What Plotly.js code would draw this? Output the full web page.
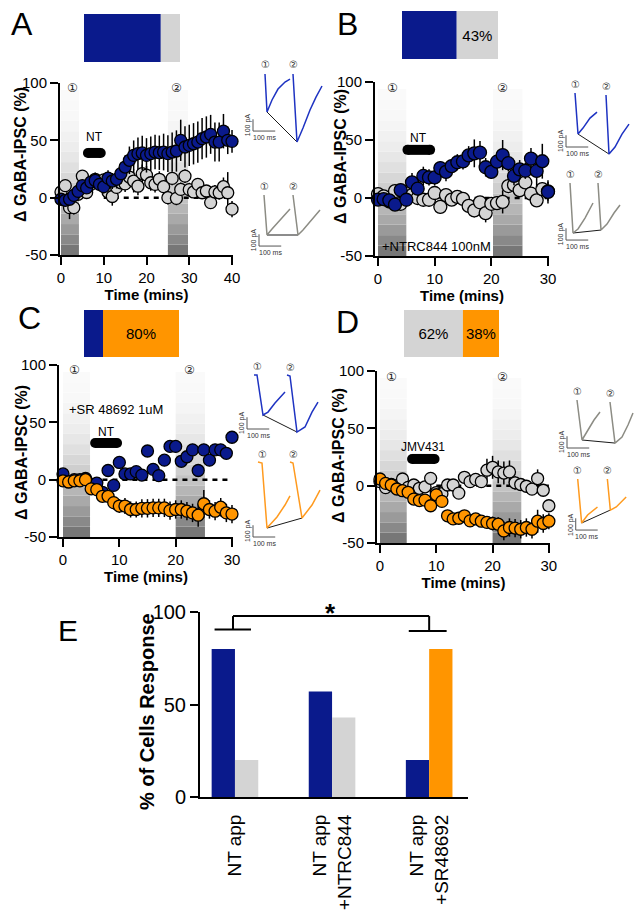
<!DOCTYPE html>
<html>
<head>
<meta charset="utf-8">
<script src="https://cdn.plot.ly/plotly-3.0.1.min.js"></script>
<style>
html,body{margin:0;padding:0;background:#fff;}
#chart{width:641px;height:912px;}
</style>
</head>
<body>
<div id="chart"></div>
<script>
// ================= DATA =================
// ---- Panel A : NT application (time in min, % change of GABA-IPSC) ----
const timeA = [0,1,2,3,4,5,6,7,8,9,10,11,12,13,14,15,16,17,18,19,20,21,22,23,24,25,26,27,28,29,30,31,32,33,34,35,36,37,38,39,40];
const incA = [-1.4,-2.3,-1.4,2,5.5,10.5,8.5,13.6,15,11.6,9.6,17,14.5,16,20.9,26.7,32.6,36.9,38.4,39,36.9,38.4,39.8,39.2,39.8,38.4,39.8,40.7,50,44.2,45.6,47,48.5,51.5,52.9,55.2,48.5,48.5,58,50,49.1];
const incErrA = [3,3,3,4,4,5,5,6,6,6,6,7,7,8,9,10,12,13,14,15,15,15,15,15,16,16,17,18,18,18,18,18,18,18,18,17,17,17,15,12,10];
const nonA = [5,10.5,-8.7,-8.7,3,18.8,4.5,11.6,16,12,15.5,5,1,9,13,12,18,14.5,10,21,19.7,13,11.6,16,9.6,0,16.8,-0.6,7.2,18.8,7,5,11.6,4.3,5.8,-4.3,5,4.3,9.6,4.3,-10];
const nonErrA = [5,4,10,6,4,5,5,5,6,6,5,5,8,6,6,7,8,10,8,8,8,7,7,7,6,6,6,6,6,6,6,5,5,5,5,5,6,6,8,18,7];
const appA = [6.3, 9.3];
const windowsA = [[0,4.2],[25,29.7]];
const zeroRefA = [10,40];

// ---- Panel B : NT + NTRC844 100nM ----
const time30 = [0,1,2,3,4,5,6,7,8,9,10,11,12,13,14,15,16,17,18,19,20,21,22,23,24,25,26,27,28,29,30];
const incB = [-1.4,-1,-2,-5.7,6.8,-1.5,13.5,8,19,17.7,17.7,25.8,22.5,27.5,30.8,31.5,36.7,38.5,39.2,26.5,22.5,31.3,37,30,19,24.7,23.5,34,23.3,31.7,5.3];
const incErrB = [3,3,3,4,5,4,8,6,8,7,7,6,8,6,7,7,8,12,10,8,6,7,13,7,8,8,7,9,14,15,10];
const nonB = [3.4,1.4,-3,6,-5,1,2.5,0,-1.5,-1.5,4.3,-7.6,2.5,-1.4,1,-0.8,-6.8,-10.7,-3.7,-13,-5,-4.5,-3.3,10.3,11.3,6.7,13.4,3.7,-2,7.7,5.7];
const nonErrB = [3,3,4,4,4,3,4,3,3,3,3,6,3,3,3,4,5,6,4,8,5,5,10,6,6,5,6,5,5,6,8];
const appB = [5.2, 9.2];
const windowsB = [[0,5],[20.3,25.5]];
const zeroRefB = [10,30];

// ---- Panel C : NT + SR 48692 1uM ----
const incC = [5,-2,0,0,1,-4,-3,-11,8,-5,15,5,5,7,4,25,9,3.5,17,29,29,16,20,26,8,26,17,26,26,23,37];
const decC = [-1,-2,-1,-1,0,-8,-8.7,-14.5,-14.5,-20,-23,-23,-26,-26,-25,-25,-24.6,-24.6,-24.6,-27,-26,-26,-27.5,-29,-31,-21,-26,-27.5,-24,-29,-30];
const decErrC = [2,2,2,2,2,3,4,5,5,6,6,7,7,7,8,8,8,8,8,8,8,8,8,8,10,12,8,8,8,8,8];
const appC = [5.7, 9.6];
const windowsC = [[0,4.8],[20,25.2]];
const zeroRefC = [7,30];

// ---- Panel D : JMV431 ----
const nonD = [3.5,-1.7,1,0,5.8,-1.5,0.6,-2.3,-1,6.4,-6,-7,0.6,0.6,-6.5,7.3,3.5,5.5,3.5,13.5,16,12,11,12,2.5,1,-0.5,-3,6.2,-4,-17.5];
const nonErrD = [3,3,3,3,3,3,3,3,3,4,4,4,3,3,4,5,4,5,4,10,10,10,10,10,6,4,4,4,8,4,5];
const decD = [5.8,2,0.6,-2.9,-4.4,-5.8,-11.7,-13,-12.6,-17.5,-7.9,-13.7,-26.3,-29,-28.4,-26.3,-30.7,-29,-31,-32,-33,-33.6,-39.5,-36.5,-37,-38,-36.5,-38,-31,-33,-31];
const decErrD = [3,3,3,3,3,3,4,4,4,4,5,5,4,4,4,5,5,5,5,5,6,6,8,8,8,8,8,8,10,8,7];
const appD = [5.7, 9.7];
const windowsD = [[0,4.75],[20,25.1]];
const zeroRefD = [10,30];

// ---- Panel E : % of cells response ----
const catE = ['NT app', 'NT app<br>+NTRC844', 'NT app<br>+SR48692'];
const incE = [80, 57, 20];
const nonE = [20, 43, null];
const decE = [null, null, 80];
const jmvNon = 62, jmvDec = 38;

// ---- Example traces (ms, pA), sweeps ① and ② separated by null ----
const tA_inc = [0,9,31.5,58.5,90,112.5,null,126,144,171,202.5,229.5,256.5];
const iA_inc = [0,-323,-221,-128,-68,-43,null,0,-578,-459,-306,-196,-102];
const tA_non = [0,13.5,36,63,117,null,130.5,153,175.5,207,252];
const iA_non = [0,-340,-289,-230,-119,null,0,-340,-298,-230,-128];
const tB_inc = [0,13.5,36,67.5,99,null,139.5,153,180,211.5,243];
const iB_inc = [0,-349,-298,-213,-162,null,-17,-519,-459,-349,-264];
const tB_non = [0,13.5,36,67.5,103.5,null,126,139.5,166.5,198,225];
const iB_non = [0,-425,-391,-298,-170,null,0,-400,-349,-255,-187];
const tC_inc = [-13.5,0,27,49.5,81,126,null,135,148.5,180,216,247.5,274.5];
const iC_inc = [0,0,-340,-315,-238,-145,null,0,-8.5,-485,-442,-315,-230];
const tC_dec = [-18,0,22.5,67.5,103.5,126,null,126,139.5,180,225,261];
const iC_dec = [8.5,0,-553,-459,-357,-280,null,8.5,0,-468,-357,-230];
const tD_non = [0,22.5,49.5,76.5,103.5,null,148.5,171,202.5,229.5,252];
const iD_non = [0,-340,-255,-170,-102,null,-17,-366,-315,-213,-111];
const tD_dec = [0,18,45,72,90,null,135,148.5,175.5,198,220.5];
const iD_dec = [0,-374,-306,-264,-238,null,0,-264,-238,-196,-153];

// ================= STYLE / LAYOUT =================
const FONT = 'Liberation Sans, Arial, Helvetica, sans-serif';
const W = 641, H = 912;
const BLUE = '#0a1a8c', GREY = '#d4d4d4', ORANGE = '#ff9500';
const BLUE_TR = '#1e33c2', GREY_TR = '#8c8c84', ORANGE_TR = '#ff9a1e';
const px = (a, b) => [a / W, b / W];
const py = (top, bottom) => [1 - bottom / H, 1 - top / H];
const sfx = n => (n === 1 ? '' : String(n));

const layout = {
  width: W, height: H, margin: {l:0, r:0, t:0, b:0, pad:0},
  paper_bgcolor: '#ffffff', plot_bgcolor: 'rgba(0,0,0,0)',
  font: {family: FONT, color: '#000', size: 13},
  showlegend: false, barmode: 'overlay', hovermode: false,
  shapes: [], annotations: []
};
const traces = [];

// ---- main time-course panels ----
const panels = [
  {n:1, xd:[60,233], yd:[83,255], xr:[-0.23,40.23], xt:[0,10,20,30,40], win:windowsA, zero:zeroRefA, app:appA, appLevel:39,
   label:{t:'NT', x:7.8, y:53}, circ:[[2.6,95.5],[27.1,95.5]], size:12, ytitle:[21,155],
   series:[{y:nonA, e:nonErrA, c:GREY}, {y:incA, e:incErrA, c:BLUE}], x:timeA},
  {n:2, xd:[375,549], yd:[82,256], xr:[-0.53,30.18], xt:[0,10,20,30], win:windowsB, zero:zeroRefB, app:appB, appLevel:41.5,
   label:{t:'NT', x:7.1, y:52}, circ:[[2.5,95],[22,95]], size:13, ytitle:[340,157],
   series:[{y:nonB, e:nonErrB, c:GREY}, {y:incB, e:incErrB, c:BLUE}], x:time30},
  {n:3, xd:[59,233], yd:[365,537], xr:[-0.71,30.18], xt:[0,10,20,30], win:windowsC, zero:zeroRefC, app:appC, appLevel:32,
   label:{t:'NT', x:7.7, y:42}, circ:[[2.1,95.5],[22.5,95.5]], size:12, ytitle:[21,453],
   series:[{y:incC, e:null, c:BLUE}, {y:decC, e:decErrC, c:ORANGE}], x:time30},
  {n:4, xd:[377,550], yd:[371,543], xr:[-0.53,30.2], xt:[0,10,20,30], win:windowsD, zero:zeroRefD, app:appD, appLevel:23.3,
   label:{t:'JMV431', x:7.6, y:33.5}, circ:[[2.1,95],[21.8,95]], size:12, ytitle:[338,455],
   series:[{y:nonD, e:nonErrD, c:GREY}, {y:decD, e:decErrD, c:ORANGE}], x:time30}
];

const axisCommon = {
  showline:true, linewidth:2, linecolor:'#000', ticks:'outside', ticklen:8, tickwidth:2, tickcolor:'#000',
  showgrid:false, zeroline:false, fixedrange:true, tickfont:{size:15, family:FONT}
};

panels.forEach(p => {
  const s = sfx(p.n), xr = 'x' + s, yr = 'y' + s;
  layout['xaxis' + s] = Object.assign({}, axisCommon, {
    domain: px(p.xd[0], p.xd[1]), range: p.xr, anchor: yr, tickvals: p.xt,
    title: {text:'<b>Time (mins)</b>', font:{size:15, family:FONT}, standoff:0}
  });
  layout['yaxis' + s] = Object.assign({}, axisCommon, {
    domain: py(p.yd[0], p.yd[1]), range: [-50, 100], anchor: xr,
    tickvals: [-50, 0, 50, 100], ticktext: ['-50', '0', '50', '100']
  });
  layout.annotations.push({xref:'paper', yref:'paper', x:p.ytitle[0] / W, y:1 - p.ytitle[1] / H,
    xanchor:'center', yanchor:'middle', textangle:-90, text:'<b>Δ GABA-IPSC (%)</b>', showarrow:false,
    font:{size:16, family:FONT}});
  // recording windows (grey gradient)
  const N = 16, top = 94;
  p.win.forEach(w => {
    for (let k = 0; k < N; k++) {
      const f = (k + 0.5) / N;
      const g = Math.round(110 + 140 * (1 - Math.pow(1 - f, 2.2)));
      layout.shapes.push({type:'rect', xref:xr, yref:yr, x0:w[0], x1:w[1],
        y0:-50 + (top + 50) * k / N, y1:-50 + (top + 50) * (k + 1) / N,
        fillcolor:`rgb(${g},${g},${g})`, line:{width:0}, layer:'below'});
    }
  });
  // dashed baseline
  layout.shapes.push({type:'line', xref:xr, yref:yr, x0:p.zero[0], x1:p.zero[1], y0:0, y1:0,
    line:{color:'#000', width:2.5, dash:'5px,5px'}, layer:'below'});
  // data
  p.series.forEach(se => {
    const tr = {type:'scatter', mode:'markers', x:p.x, y:se.y, xaxis:xr, yaxis:yr, cliponaxis:false,
      marker:{size:p.size, color:se.c, line:{color:'#000', width:1.3}}, hoverinfo:'skip'};
    if (se.e) tr.error_y = {type:'data', array:se.e, visible:true, color:'#000', thickness:1.5, width:0};
    traces.push(tr);
  });
  // drug application bar
  traces.push({type:'scatter', mode:'lines+markers', x:p.app, y:[p.appLevel, p.appLevel], xaxis:xr, yaxis:yr,
    line:{color:'#000', width:10}, marker:{size:10, color:'#000'}, cliponaxis:false, hoverinfo:'skip'});
  layout.annotations.push({xref:xr, yref:yr, x:p.label.x, y:p.label.y, text:p.label.t, showarrow:false,
    font:{size:12, family:FONT}});
  p.circ.forEach((c, k) => layout.annotations.push({xref:xr, yref:yr, x:c[0], y:c[1], text:k ? '②' : '①',
    showarrow:false, font:{size:12, family:'DejaVu Sans', color:'#222'}}));
});
layout.annotations.push({xref:'x2', yref:'y2', x:0.3, y:-42, text:'+NTRC844 100nM', xanchor:'left', showarrow:false, font:{size:13, family:FONT}});
layout.annotations.push({xref:'x3', yref:'y3', x:0.7, y:61, text:'+SR 48692 1uM', xanchor:'left', showarrow:false, font:{size:13, family:FONT}});

// ---- panel E ----
layout.xaxis5 = {domain:px(200,468), type:'category', categoryorder:'array', categoryarray:catE, range:[-0.36,2.40],
  anchor:'y5', showline:true, linewidth:2, linecolor:'#000', ticks:'', tickangle:-90, ticklabelstandoff:8,
  tickfont:{size:19, family:FONT}, showgrid:false, zeroline:false, fixedrange:true};
layout.yaxis5 = Object.assign({}, axisCommon, {domain:py(612,797), range:[0,100], anchor:'x5', tickvals:[0,50,100],
  tickfont:{size:20, family:FONT}});
layout.annotations.push({xref:'paper', yref:'paper', x:147 / W, y:1 - 712 / H, xanchor:'center', yanchor:'middle',
  textangle:-90, text:'<b>% of Cells Response</b>', showarrow:false, font:{size:20, family:FONT}});
traces.push({type:'bar', x:catE, y:incE, xaxis:'x5', yaxis:'y5', width:0.24, offset:-0.24, marker:{color:BLUE, line:{width:0}}, hoverinfo:'skip'});
traces.push({type:'bar', x:catE, y:nonE, xaxis:'x5', yaxis:'y5', width:0.24, offset:0, marker:{color:GREY, line:{width:0}}, hoverinfo:'skip'});
traces.push({type:'bar', x:catE, y:decE, xaxis:'x5', yaxis:'y5', width:0.24, offset:0, marker:{color:ORANGE, line:{width:0}}, hoverinfo:'skip'});
// significance bracket
const br = {color:'#000', width:2};
[[-0.21,90.5,0.165,90.5],[-0.02,90.5,-0.02,97.8],[-0.02,97.8,2.0,97.8],[2.0,97.8,2.0,89.7],[1.79,89.7,2.18,89.7]]
  .forEach(s => layout.shapes.push({type:'line', xref:'x5', yref:'y5', x0:s[0], y0:s[1], x1:s[2], y1:s[3], line:br}));
layout.annotations.push({xref:'x5', yref:'y5', x:0.98, y:99.5, text:'<b>*</b>', showarrow:false, font:{size:26, family:FONT}});

// ---- stacked proportion bars above panels ----
const tops = [
  {n:6, xd:[84,180], yd:[14,62], segs:[{v:incE[0], c:BLUE, show:false}, {v:nonE[0], c:GREY, show:false}]},
  {n:7, xd:[402,498], yd:[11,59], segs:[{v:incE[1], c:BLUE, show:false}, {v:nonE[1], c:GREY, show:true}]},
  {n:8, xd:[84,179], yd:[310,357], segs:[{v:incE[2], c:BLUE, show:false}, {v:decE[2], c:ORANGE, show:true}]},
  {n:9, xd:[404,499], yd:[310,357], segs:[{v:jmvNon, c:GREY, show:true}, {v:jmvDec, c:ORANGE, show:true}]}
];
tops.forEach(t => {
  const s = String(t.n);
  layout['xaxis' + s] = {domain:px(t.xd[0], t.xd[1]), range:[0,100], visible:false, anchor:'y' + s, fixedrange:true};
  layout['yaxis' + s] = {domain:py(t.yd[0], t.yd[1]), range:[-0.5,0.5], visible:false, anchor:'x' + s, fixedrange:true};
  let base = 0;
  t.segs.forEach(sg => {
    traces.push({type:'bar', orientation:'h', x:[sg.v], y:[0], base:[base], width:1, xaxis:'x' + s, yaxis:'y' + s,
      marker:{color:sg.c, line:{width:0}}, text:[sg.show ? sg.v + '%' : ''], textposition:'inside',
      insidetextanchor:'middle', textangle:0, constraintext:'none', textfont:{size:15, color:'#000', family:FONT}, hoverinfo:'skip'});
    base += sg.v;
  });
});

// ---- example current traces ----
const MSPX = 4.5, PAPX = 8.5;
const insets = [
  {n:10, ox:265, oy:74,  t:tA_inc, i:iA_inc, c:BLUE_TR,   bar:[-54,-485]},
  {n:11, ox:264, oy:195, t:tA_non, i:iA_non, c:GREY_TR,   bar:[-22.5,-434]},
  {n:12, ox:575, oy:93,  t:tB_inc, i:iB_inc, c:BLUE_TR,   bar:[-40.5,-459]},
  {n:13, ox:570, oy:183, t:tB_non, i:iB_non, c:GREY_TR,   bar:[-18,-485]},
  {n:14, ox:257, oy:375, t:tC_inc, i:iC_inc, c:BLUE_TR,   bar:[-45,-459]},
  {n:15, ox:262, oy:463, t:tC_dec, i:iC_dec, c:ORANGE_TR, bar:[-40.5,-629]},
  {n:16, ox:577, oy:400, t:tD_non, i:iD_non, c:GREY_TR,   bar:[-45,-408]},
  {n:17, ox:578, oy:479, t:tD_dec, i:iD_dec, c:ORANGE_TR, bar:[-9,-434]}
];
function splitSweeps(t) {
  const out = []; let cur = [];
  t.forEach((v, k) => { if (v === null) { if (cur.length) out.push(cur); cur = []; } else cur.push(k); });
  if (cur.length) out.push(cur);
  return out;
}
insets.forEach(ins => {
  const s = String(ins.n), xr = 'x' + s, yr = 'y' + s;
  layout['xaxis' + s] = {domain:px(ins.ox - 28, ins.ox + 64), range:[-28 * MSPX, 64 * MSPX], visible:false, anchor:yr, fixedrange:true};
  layout['yaxis' + s] = {domain:py(ins.oy - 22, ins.oy + 92), range:[-92 * PAPX, 22 * PAPX], visible:false, anchor:xr, fixedrange:true};
  const sw = splitSweeps(ins.t);
  const mins = sw.map(idx => idx.reduce((a, b) => (ins.i[b] < ins.i[a] ? b : a)));
  traces.push({type:'scatter', mode:'lines', x:mins.map(k => ins.t[k]), y:mins.map(k => ins.i[k]), xaxis:xr, yaxis:yr,
    line:{color:'#1a1a1a', width:1}, hoverinfo:'skip'});
  traces.push({type:'scatter', mode:'lines', x:ins.t, y:ins.i, xaxis:xr, yaxis:yr, connectgaps:false,
    line:{color:ins.c, width:1.5}, hoverinfo:'skip'});
  mins.forEach((k, q) => layout.annotations.push({xref:xr, yref:yr, x:ins.t[k - 1], y:ins.i[k - 1], yshift:9,
    text:q ? '②' : '①', showarrow:false, font:{size:10, family:'DejaVu Sans', color:'#333'}}));
  const [cx, cy] = ins.bar;
  layout.shapes.push({type:'line', xref:xr, yref:yr, x0:cx, y0:cy, x1:cx + 100, y1:cy, line:{color:'#555', width:1}});
  layout.shapes.push({type:'line', xref:xr, yref:yr, x0:cx, y0:cy, x1:cx, y1:cy + 100, line:{color:'#555', width:1}});
  layout.annotations.push({xref:xr, yref:yr, x:cx + 50, y:cy, yanchor:'top', yshift:-1, text:'100 ms', showarrow:false,
    font:{size:7, family:FONT, color:'#333'}});
  layout.annotations.push({xref:xr, yref:yr, x:cx, y:cy + 50, xshift:-5, textangle:-90, text:'100 pA', showarrow:false,
    font:{size:7, family:FONT, color:'#333'}});
});

// ---- panel letters ----
[['A',22,24,32],['B',347,24,32],['C',29,318,32],['D',347,322,32],['E',68,630,30]].forEach(l =>
  layout.annotations.push({xref:'paper', yref:'paper', x:l[1] / W, y:1 - l[2] / H, text:l[0], showarrow:false,
    xanchor:'center', yanchor:'middle', font:{size:l[3], family:FONT}}));

Plotly.newPlot('chart', traces, layout, {staticPlot:true, displayModeBar:false});
</script>
</body>
</html>
